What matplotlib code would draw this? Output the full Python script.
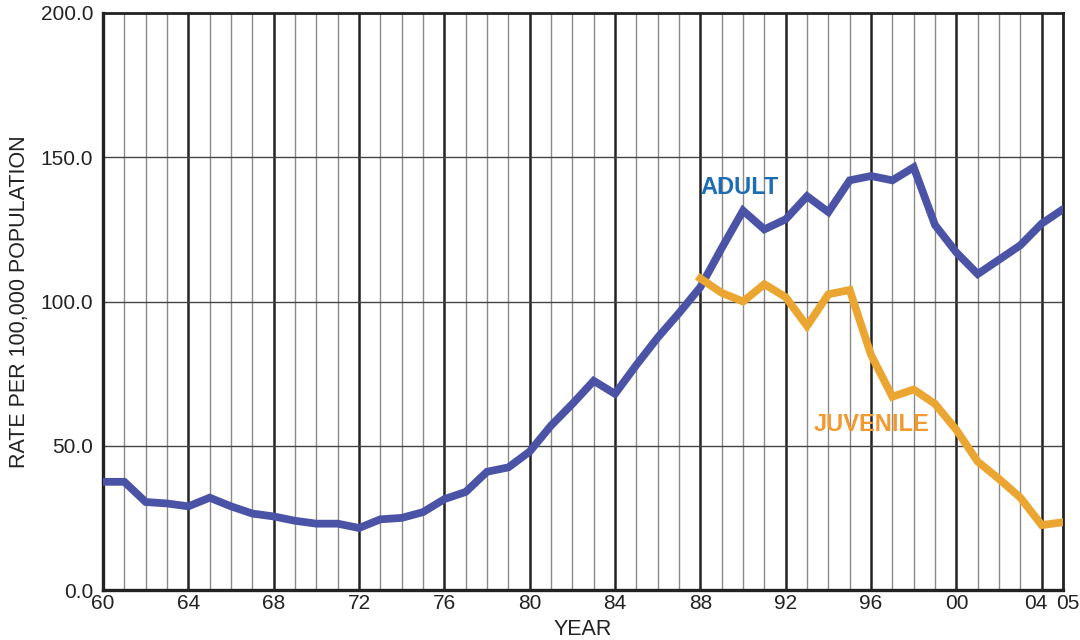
import matplotlib
matplotlib.use('Agg')
import matplotlib.pyplot as plt
from matplotlib.transforms import ScaledTranslation

plt.rcParams['font.family'] = ['Liberation Sans', 'DejaVu Sans']

# Data
years = list(range(1960, 2006))
adult = [37.5, 37.5, 30.5, 30, 29, 32, 29, 26.5, 25.5, 24, 23, 23, 21.5, 24.5, 25, 27,
         31.5, 34, 41, 42.5, 48, 57, 64.5, 72.5, 68, 78, 87.5, 96, 105, 118.5,
         131.5, 125, 128.5, 136.5, 131, 142, 143.5, 142, 146.5, 126.5, 117, 109.5,
         114.5, 119.5, 127, 132]
juv_years = list(range(1988, 2006))
juvenile = [108, 103, 100, 106, 101.5, 91.5, 102.5, 104, 81.5, 67, 69.5, 64.5,
            55.5, 44.5, 38.5, 32, 22.5, 23.5]

x_ticks = [1960, 1964, 1968, 1972, 1976, 1980, 1984, 1988, 1992, 1996, 2000, 2004, 2005]
x_labels = ['60', '64', '68', '72', '76', '80', '84', '88', '92', '96', '00', '04', '05']
y_ticks = [0, 50, 100, 150, 200]

fig = plt.figure(figsize=(10.8, 6.4), dpi=100)
ax = fig.add_axes([0.0954, 0.0781, 0.8889, 0.9016])

# yearly grid, heavier every 4 years
for yr in range(1961, 2005):
    if (yr - 1960) % 4 == 0:
        ax.axvline(yr, color='#222222', lw=1.8, zorder=1)
    else:
        ax.axvline(yr, color='#8a8a8a', lw=1.0, zorder=1)
for yv in [50, 100, 150]:
    ax.axhline(yv, color='#444444', lw=1.0, zorder=1)

ax.plot(years, adult, color='#4b53a6', lw=5.6, solid_joinstyle='miter', zorder=3)
ax.plot(juv_years, juvenile, color='#eba632', lw=5.6, solid_joinstyle='miter', zorder=3)

ax.text(1988.0, 139.5, 'ADULT', color='#1c6db3', fontsize=17, fontweight='bold',
        ha='left', va='center')
ax.text(1996.0, 57.5, 'JUVENILE', color='#f29a30', fontsize=17, fontweight='bold',
        ha='center', va='center')

ax.set_xlim(1960, 2005)
ax.set_ylim(0, 200)
ax.set_xticks(x_ticks)
ax.set_xticklabels(x_labels)
ax.set_yticks(y_ticks)
ax.set_yticklabels([f'{v:.1f}' for v in y_ticks])
ax.tick_params(length=0, labelsize=15, colors='#222222')
ax.tick_params(axis='x', pad=3)
ax.tick_params(axis='y', pad=7)

# nudge the crowded 04 / 05 labels apart
labels = ax.get_xticklabels()
labels[-2].set_transform(labels[-2].get_transform() + ScaledTranslation(-6 / 100, 0, fig.dpi_scale_trans))
labels[-1].set_transform(labels[-1].get_transform() + ScaledTranslation(5 / 100, 0, fig.dpi_scale_trans))

ax.set_xlabel('YEAR', fontsize=15.5, color='#222222', labelpad=4)
ax.set_ylabel('RATE PER 100,000 POPULATION', fontsize=15.5, color='#222222', labelpad=8)

for side in ['left', 'bottom']:
    ax.spines[side].set_linewidth(2.4)
    ax.spines[side].set_color('#222222')
for side in ['top', 'right']:
    ax.spines[side].set_linewidth(2.0)
    ax.spines[side].set_color('#222222')

fig.savefig('out.png', dpi=100)
